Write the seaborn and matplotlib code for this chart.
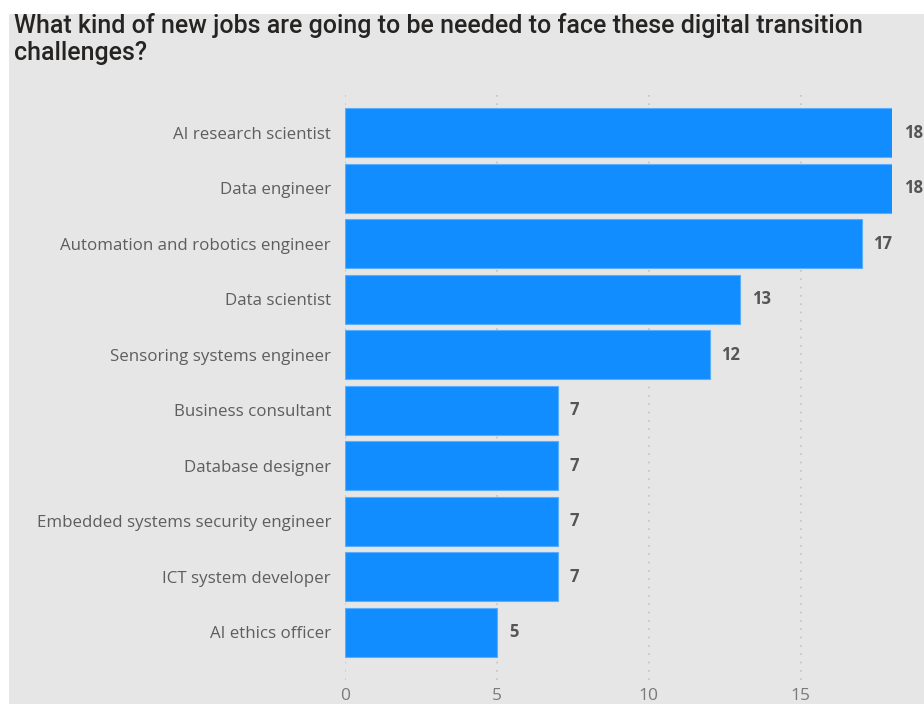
import matplotlib
matplotlib.use("Agg")
import matplotlib.pyplot as plt
from matplotlib.patches import Rectangle
import seaborn as sns
import pandas as pd

jobs = [
    "AI research scientist",
    "Data engineer",
    "Automation and robotics engineer",
    "Data scientist",
    "Sensoring systems engineer",
    "Business consultant",
    "Database designer",
    "Embedded systems security engineer",
    "ICT system developer",
    "AI ethics officer",
]
counts = [18, 18, 17, 13, 12, 7, 7, 7, 7, 5]
x_ticks = [0, 5, 10, 15]

title_lines = [
    "What kind of new jobs are going to be needed to face these digital transition",
    "challenges?",
]

df = pd.DataFrame({"job": jobs, "count": counts})

sns.set_theme(style="white")
plt.rcParams["font.family"] = ["Open Sans", "DejaVu Sans"]

W, H = 924, 704
fig = plt.figure(figsize=(W / 100, H / 100), dpi=100)
# grey report panel with a thin white margin at top and left
fig.patch.set_facecolor("#e6e6e6")
fig.patches.append(Rectangle((0, 0), 9 / W, 1, transform=fig.transFigure,
                             facecolor="white", edgecolor="none", zorder=-5))
fig.patches.append(Rectangle((0, 1 - 14 / H), 1, 14 / H, transform=fig.transFigure,
                             facecolor="white", edgecolor="none", zorder=-5))

ax = fig.add_axes([345 / W, 1 - 680 / H, (892 - 345) / W, (680 - 90) / H])
ax.set_facecolor("none")

sns.barplot(data=df, x="count", y="job", orient="h", color="#118DFF",
            width=0.885, saturation=1, edgecolor="#5aaeff", linewidth=0.8,
            ax=ax, zorder=3)

ax.set_xlim(0, 18)
ax.set_ylim(9.86, -0.77)
ax.set_xticks(x_ticks)
ax.set_xlabel("")
ax.set_ylabel("")
for s in ax.spines.values():
    s.set_visible(False)
ax.tick_params(axis="both", length=0)
ax.tick_params(axis="x", labelsize=12.5, labelcolor="#7a7a7a", pad=6)
ax.tick_params(axis="y", labelsize=12.2, labelcolor="#605e5c", pad=10)
ax.xaxis.grid(True, linestyle=(0, (1, 4)), color="#c4c4c4", linewidth=1.2, zorder=1)
ax.yaxis.grid(False)
ax.set_axisbelow(True)

for i, v in enumerate(counts):
    ax.annotate(f"{v}", xy=(v, i), xytext=(8.5, 0), textcoords="offset points",
                ha="left", va="center", fontsize=12, fontweight="bold",
                color="#555555", annotation_clip=False)

for k, line in enumerate(title_lines):
    fig.text(14 / W, 1 - (33 + 27 * k) / H, line, ha="left", va="baseline",
             fontsize=18, fontweight="medium", color="#252423",
             family=["Roboto", "DejaVu Sans"])

fig.savefig("out.png", dpi=100)
